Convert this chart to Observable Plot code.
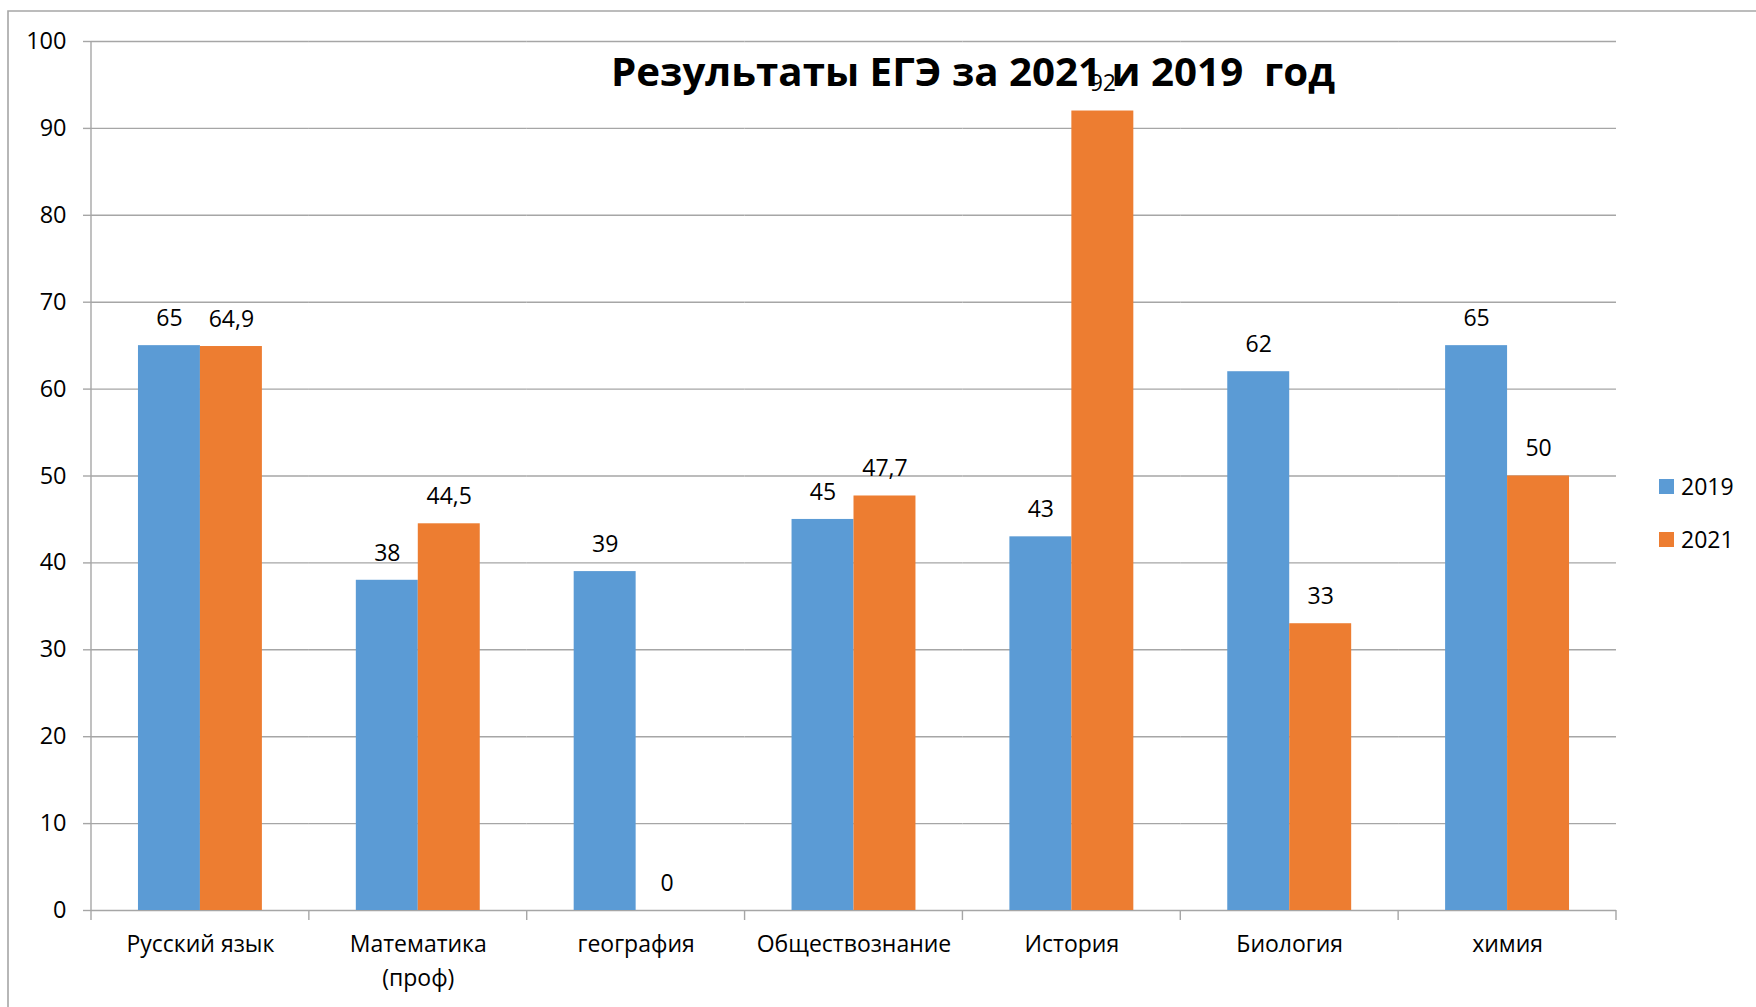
<!DOCTYPE html>
<html>
<head>
<meta charset="utf-8">
<script src="https://cdn.jsdelivr.net/npm/d3@7"></script>
<script src="https://cdn.jsdelivr.net/npm/@observablehq/plot@0.6"></script>
<style>
  html, body { margin: 0; padding: 0; background: #fff; }
  #chart { position: relative; width: 1756px; height: 1007px; }
</style>
</head>
<body>
<div id="chart"></div>
<script>
const subjects = ["Русский язык", "Математика\n(проф)", "география", "Обществознание", "История", "Биология", "химия"];
const years = ["2019", "2021"];
const values2019 = [65, 38, 39, 45, 43, 62, 65];
const values2021 = [64.9, 44.5, 0, 47.7, 92, 33, 50];
const yTicks = [0, 10, 20, 30, 40, 50, 60, 70, 80, 90, 100];
const colors = ["#5B9BD5", "#ED7D31"];
const titleText = "Результаты ЕГЭ за 2021 и 2019  год";

const rows = [];
subjects.forEach((s, i) => {
  rows.push({subject: s, year: "2019", value: values2019[i]});
  rows.push({subject: s, year: "2021", value: values2021[i]});
});
const fmt = v => String(v).replace(".", ",");

const font = "'Open Sans', 'Noto Sans', sans-serif";

const chart = Plot.plot({
  width: 1756,
  height: 1007,
  marginLeft: 91,
  marginRight: 140,
  marginTop: 41,
  marginBottom: 97,
  style: {fontFamily: font, fontSize: "23px", color: "#000", background: "transparent", overflow: "visible"},
  fx: {domain: subjects, padding: 0, round: false, label: null},
  x: {domain: years, paddingInner: 0, paddingOuter: 0.758, round: false, axis: null},
  y: {domain: [0, 100], label: null},
  color: {domain: years, range: colors},
  marks: [
    Plot.gridY(yTicks, {stroke: "#a6a6a6", strokeOpacity: 1, strokeWidth: 1.4}),
    Plot.axisY(yTicks, {tickSize: 8, tickPadding: 17, stroke: "#a6a6a6", strokeWidth: 1.4, fontSize: 23.5, label: null}),
    Plot.axisFx({anchor: "bottom", tickSize: 0, tickPadding: 17, lineHeight: 1.5, fontSize: 23, label: null}),
    Plot.barY(rows, {fx: "subject", x: "year", y: "value", fill: "year"}),
    Plot.text(rows, {fx: "subject", x: "year", y: "value", text: d => fmt(d.value), dy: -27, fontSize: 23, fill: "#000"})
  ]
});

document.getElementById("chart").appendChild(chart);

const svg = d3.select(chart);
const fx = chart.scale("fx");
const y = chart.scale("y");
const color = chart.scale("color");
const x0 = fx.apply(subjects[0]);
const step = fx.step;
const y0 = y.apply(0);
const y100 = y.apply(100);

const deco = svg.append("g").attr("stroke", "#a6a6a6").attr("stroke-width", 1.4).attr("fill", "none");
// outer chart border (top and left)
deco.append("path").attr("d", `M8,1007V11H1756`).attr("stroke-width", 1.6);
// y axis line
deco.append("line").attr("x1", x0).attr("x2", x0).attr("y1", y100).attr("y2", y0 + 10);
// category boundary ticks
for (let i = 1; i <= subjects.length; i++) {
  const xx = x0 + i * step;
  deco.append("line").attr("x1", xx).attr("x2", xx).attr("y1", y0).attr("y2", y0 + 10);
}

// title
svg.append("text")
  .attr("x", 973).attr("y", 86)
  .attr("text-anchor", "middle")
  .attr("font-family", font).attr("font-weight", 700).attr("font-size", 40)
  .attr("fill", "#000")
  .attr("xml:space", "preserve")
  .style("white-space", "pre")
  .attr("textLength", 724).attr("lengthAdjust", "spacingAndGlyphs")
  .text(titleText);

// legend
const lg = svg.append("g").attr("font-family", font).attr("font-size", 23).attr("text-anchor", "start");
years.forEach((yr, i) => {
  const cy = 486.5 + i * 53;
  lg.append("rect").attr("x", 1659).attr("y", cy - 7.5).attr("width", 15).attr("height", 15).attr("fill", color.apply(yr));
  lg.append("text").attr("x", 1681).attr("y", cy + 8.5).attr("fill", "#000").text(yr);
});
</script>
</body>
</html>
